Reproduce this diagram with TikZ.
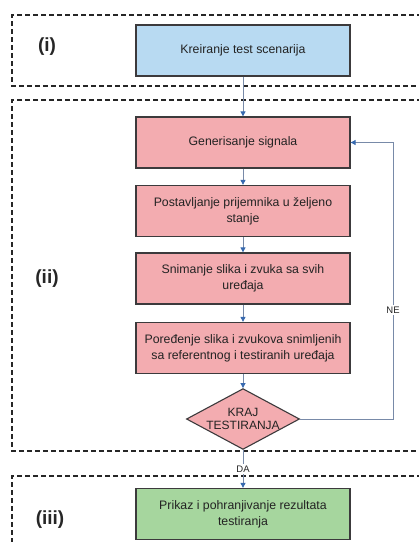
\documentclass[tikz,border=0pt]{standalone}
\usepackage{fontspec}
\setmainfont{Liberation Sans}
\usetikzlibrary{arrows.meta,shapes.geometric}

\definecolor{boxblue}{RGB}{184,218,242}
\definecolor{boxred}{RGB}{243,172,176}
\definecolor{boxgreen}{RGB}{166,214,158}
\definecolor{boxedge}{RGB}{60,58,60}
\definecolor{flowline}{RGB}{120,138,168}
\definecolor{tipblue}{RGB}{55,105,175}
\definecolor{labelgray}{RGB}{35,35,35}

\tikzset{
  frame/.style={draw=black!85, line width=1.8pt, dash pattern=on 5pt off 3pt},
  stepbox/.style={draw=boxedge, line width=1.3pt, minimum width=214pt, minimum height=51pt,
    align=center, font=\fontsize{12.3}{16}\selectfont, text=labelgray, inner sep=2pt},
  decision/.style={diamond, draw=boxedge, line width=1.1pt, fill=boxred, minimum width=91pt,
    minimum height=49pt, inner sep=0pt, aspect=1.86, align=center,
    font=\fontsize{12}{13}\selectfont, text=labelgray},
  flow/.style={draw=flowline, line width=0.9pt,
    -{Triangle[length=5pt,width=5pt,color=tipblue]}},
  phase/.style={font=\bfseries\fontsize{19}{22}\selectfont, text=black!85},
  edgelabel/.style={fill=white, inner sep=1.5pt, font=\fontsize{9.5}{11}\selectfont, text=labelgray}
}

\begin{document}
\begin{tikzpicture}[x=1pt,y=-1pt]
  \useasboundingbox (0,0) rectangle (419,542);
  \clip (0,0) rectangle (419,542);

  % dashed phase frames
  \draw[frame] (430,15) -- (12,15) -- (12,86) -- (430,86);
  \draw[frame] (430,100) -- (12,100) -- (12,451) -- (430,451);
  \draw[frame] (430,476) -- (12,476) -- (12,560);

  % phase labels
  \node[phase] (pi)   at (47,47)  {(i)};
  \node[phase] (pii)  at (47,279) {(ii)};
  \node[phase] (piii) at (50,520) {(iii)};

  % process steps
  \node[stepbox, fill=boxblue] (create) at (243,50.5) {Kreiranje test scenarija};
  \node[stepbox, fill=boxred] (gen)   at (243,142.5) {Generisanje signala};
  \node[stepbox, fill=boxred] (state) at (243,211)   {Postavljanje prijemnika u željeno\\stanje};
  \node[stepbox, fill=boxred] (rec)   at (243,278.5) {Snimanje slika i zvuka sa svih\\uređaja};
  \node[stepbox, fill=boxred] (cmp)   at (243,348)   {Poređenje slika i zvukova snimljenih\\sa referentnog i testiranih uređaja};
  \node[decision] (end) at (243,419) {KRAJ\\TESTIRANJA};
  \node[stepbox, fill=boxgreen] (show) at (243,514) {Prikaz i pohranjivanje rezultata\\testiranja};

  % corner of the feedback loop
  \coordinate (loopbot) at (393,419);
  \coordinate (looptop) at (393,142.5);

  % connectors
  \draw[flow] (create) -- (gen);
  \draw[flow] (gen) -- (state);
  \draw[flow] (state) -- (rec);
  \draw[flow] (rec) -- (cmp);
  \draw[flow] (cmp) -- (end);
  \draw[flow] (end) -- node[edgelabel] (da) {DA} (show);
  \draw[flow] (end.east) -- (loopbot) -- node[edgelabel, pos=0.395] (ne) {NE} (looptop) -- (gen.east);
\end{tikzpicture}
\end{document}
